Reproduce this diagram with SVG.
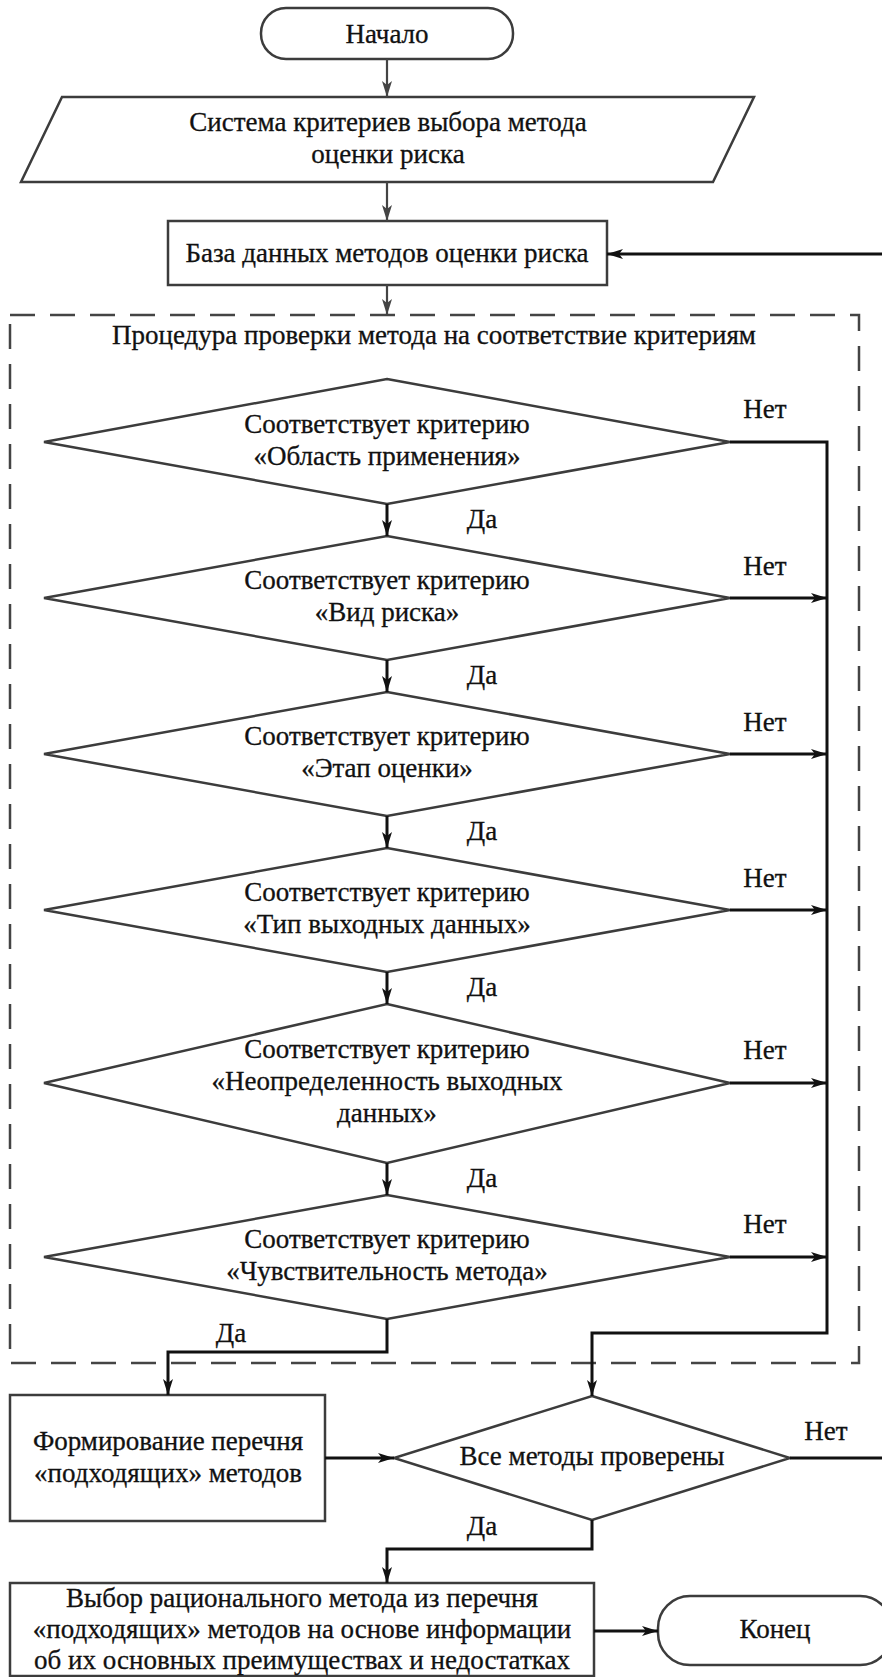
<svg xmlns="http://www.w3.org/2000/svg" width="882" height="1677" viewBox="0 0 882 1677" font-family="Liberation Serif, Times New Roman, serif">
<defs>
<marker id="ah" viewBox="0 0 16 10" markerUnits="userSpaceOnUse" markerWidth="16" markerHeight="11" refX="16" refY="5" orient="auto">
<path d="M0,0 L16,5 L0,10 L4,5 Z" fill="#111"/>
</marker>
<marker id="ahg" viewBox="0 0 16 10" markerUnits="userSpaceOnUse" markerWidth="16" markerHeight="11" refX="16" refY="5" orient="auto">
<path d="M0,0 L16,5 L0,10 L4,5 Z" fill="#444"/>
</marker>
</defs>
<style>
.sh{fill:#fff;stroke:#3c3c3c;stroke-width:2.5}
.t{font-family:'Liberation Serif','Times New Roman',serif;font-size:27px;fill:#111;stroke:#111;stroke-width:0.3;text-anchor:middle}
.c{fill:none;stroke:#111;stroke-width:3}
.g{fill:none;stroke:#444;stroke-width:2.2}
.dash{fill:none;stroke:#444;stroke-width:2.5;stroke-dasharray:25 15}
</style>
<rect width="882" height="1677" fill="#fff"/>

<g id="frame">
<rect class="dash" x="10" y="315" width="849" height="1048"/>
<text class="t" x="434" y="344">Процедура проверки метода на соответствие критериям</text>
</g>

<g id="start">
<rect class="sh" x="261" y="8" width="252" height="51" rx="25" ry="25"/>
<text class="t" x="387" y="43">Начало</text>
</g>

<g id="criteria">
<polygon class="sh" points="62,97 754,97 713,182 21,182"/>
<text class="t" x="388" y="131">Система критериев выбора метода</text>
<text class="t" x="388" y="163">оценки риска</text>
</g>

<g id="db">
<rect class="sh" x="168" y="221" width="439" height="64"/>
<text class="t" x="387" y="262">База данных методов оценки риска</text>
</g>

<g id="d1">
<polygon class="sh" points="387,379 730,442 387,504 44,442"/>
<text class="t" x="387" y="433">Соответствует критерию</text>
<text class="t" x="387" y="465">«Область применения»</text>
</g>

<g id="d2">
<polygon class="sh" points="387,536 730,598 387,660 44,598"/>
<text class="t" x="387" y="589">Соответствует критерию</text>
<text class="t" x="387" y="621">«Вид риска»</text>
</g>

<g id="d3">
<polygon class="sh" points="387,692 730,754 387,816 44,754"/>
<text class="t" x="387" y="745">Соответствует критерию</text>
<text class="t" x="387" y="777">«Этап оценки»</text>
</g>

<g id="d4">
<polygon class="sh" points="387,848 730,910 387,972 44,910"/>
<text class="t" x="387" y="901">Соответствует критерию</text>
<text class="t" x="387" y="933">«Тип выходных данных»</text>
</g>

<g id="d5">
<polygon class="sh" points="387,1004 730,1083 387,1163 44,1083"/>
<text class="t" x="387" y="1058">Соответствует критерию</text>
<text class="t" x="387" y="1090">«Неопределенность выходных</text>
<text class="t" x="387" y="1122">данных»</text>
</g>

<g id="d6">
<polygon class="sh" points="387,1195 730,1257 387,1319 44,1257"/>
<text class="t" x="387" y="1248">Соответствует критерию</text>
<text class="t" x="387" y="1280">«Чувствительность метода»</text>
</g>

<g id="list">
<rect class="sh" x="10" y="1395" width="315" height="126"/>
<text class="t" x="168" y="1450">Формирование перечня</text>
<text class="t" x="168" y="1482">«подходящих» методов</text>
</g>

<g id="d7">
<polygon class="sh" points="592,1396 790,1458 592,1520 394,1458"/>
<text class="t" x="592" y="1465">Все методы проверены</text>
</g>

<g id="choice">
<rect class="sh" x="10" y="1583" width="584" height="93"/>
<text class="t" x="302" y="1607">Выбор рационального метода из перечня</text>
<text class="t" x="302" y="1638">«подходящих» методов на основе информации</text>
<text class="t" x="302" y="1669">об их основных преимуществах и недостатках</text>
</g>

<g id="end">
<rect class="sh" x="658" y="1596" width="234" height="69" rx="32" ry="32"/>
<text class="t" x="775" y="1638">Конец</text>
</g>

<g id="connectors">
<path class="g" d="M387,59 V97" marker-end="url(#ahg)"/>
<path class="g" d="M387,182 V221" marker-end="url(#ahg)"/>
<path class="g" d="M387,285 V315" marker-end="url(#ahg)"/>
<path class="c" d="M882,254 H607" marker-end="url(#ah)"/>
<path class="c" d="M387,504 V536" marker-end="url(#ah)"/>
<path class="c" d="M387,660 V692" marker-end="url(#ah)"/>
<path class="c" d="M387,816 V848" marker-end="url(#ah)"/>
<path class="c" d="M387,972 V1004" marker-end="url(#ah)"/>
<path class="c" d="M387,1163 V1195" marker-end="url(#ah)"/>
<path class="c" d="M730,442 H827 V1333 H592 V1396" marker-end="url(#ah)"/>
<path class="c" d="M730,598 H827" marker-end="url(#ah)"/>
<path class="c" d="M730,754 H827" marker-end="url(#ah)"/>
<path class="c" d="M730,910 H827" marker-end="url(#ah)"/>
<path class="c" d="M730,1083 H827" marker-end="url(#ah)"/>
<path class="c" d="M730,1257 H827" marker-end="url(#ah)"/>
<path class="c" d="M387,1319 V1352 H168 V1395" marker-end="url(#ah)"/>
<path class="c" d="M325,1458 H394" marker-end="url(#ah)"/>
<path class="c" d="M790,1458 H882"/>
<path class="c" d="M592,1520 V1549 H387 V1583" marker-end="url(#ah)"/>
<path class="c" d="M594,1631 H658" marker-end="url(#ah)"/>
<g class="t">
<text x="765" y="418">Нет</text>
<text x="765" y="575">Нет</text>
<text x="765" y="731">Нет</text>
<text x="765" y="887">Нет</text>
<text x="765" y="1059">Нет</text>
<text x="765" y="1233">Нет</text>
<text x="826" y="1440">Нет</text>
<text x="482" y="528">Да</text>
<text x="482" y="684">Да</text>
<text x="482" y="840">Да</text>
<text x="482" y="996">Да</text>
<text x="482" y="1187">Да</text>
<text x="231" y="1342">Да</text>
<text x="482" y="1535">Да</text>
</g>
</g>
</svg>
